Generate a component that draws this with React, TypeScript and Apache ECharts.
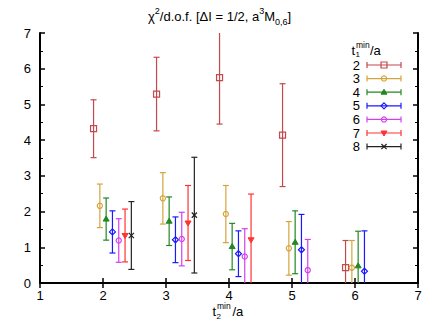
import React, { useEffect, useRef } from "react";
import * as echarts from "echarts";

// t1^min/a labels
const t1Labels = ["2", "3", "4", "5", "6", "7", "8"];
const colors = ["#c4484c", "#d4a43c", "#228822", "#1a1aff", "#d23ff0", "#ff3333", "#222222"];
const markerKinds = ["square", "circle", "triUp", "diamond", "circle", "triDown", "cross"];

// x positions (t2^min/a, with small offsets) per t1 series
const x_t1_2 = [1.85, 2.85, 3.85, 4.85, 5.85];
const x_t1_3 = [1.95, 2.95, 3.95, 4.95, 5.95];
const x_t1_4 = [2.05, 3.05, 4.05, 5.05, 6.05];
const x_t1_5 = [2.15, 3.15, 4.15, 5.15, 6.15];
const x_t1_6 = [2.25, 3.25, 4.25, 5.25];
const x_t1_7 = [2.35, 3.35, 4.35];
const x_t1_8 = [2.45, 3.45];

// chi^2/d.o.f. values
const y_t1_2 = [4.32, 5.29, 5.75, 4.14, 0.43];
const y_t1_3 = [2.16, 2.37, 1.93, 0.97, 0.43];
const y_t1_4 = [1.79, 1.73, 1.02, 1.14, 0.48];
const y_t1_5 = [1.43, 1.21, 0.82, 0.93, 0.33];
const y_t1_6 = [1.19, 1.23, 0.74, 0.36];
const y_t1_7 = [1.33, 1.68, 1.21];
const y_t1_8 = [1.33, 1.9];

// errors
const e_t1_2 = [0.81, 1.03, 1.3, 1.44, 0.76];
const e_t1_3 = [0.61, 0.72, 0.8, 0.75, 0.76];
const e_t1_4 = [0.59, 0.68, 0.65, 0.88, 0.97];
const e_t1_5 = [0.59, 0.64, 0.64, 0.99, 1.13];
const e_t1_6 = [0.61, 0.75, 0.78, 0.86];
const e_t1_7 = [0.74, 1.05, 1.28];
const e_t1_8 = [0.95, 1.62];

const xs = [x_t1_2, x_t1_3, x_t1_4, x_t1_5, x_t1_6, x_t1_7, x_t1_8];
const ys = [y_t1_2, y_t1_3, y_t1_4, y_t1_5, y_t1_6, y_t1_7, y_t1_8];
const es = [e_t1_2, e_t1_3, e_t1_4, e_t1_5, e_t1_6, e_t1_7, e_t1_8];

const xTicks = [1, 2, 3, 4, 5, 6, 7];
const yTicks = [0, 1, 2, 3, 4, 5, 6, 7];

const FONT = "'Liberation Sans', Arial, Helvetica, sans-serif";

function marker(kind: string, cx: number, cy: number, color: string, z2 = 5): any {
  const s = { stroke: color, lineWidth: 1.2, fill: "none" };
  const f = { stroke: color, lineWidth: 1, fill: color };
  switch (kind) {
    case "square":
      return { type: "rect", z2, shape: { x: cx - 3, y: cy - 3, width: 6, height: 6 }, style: s };
    case "circle":
      return { type: "circle", z2, shape: { cx, cy, r: 2.6 }, style: s };
    case "triUp":
      return {
        type: "polygon", z2,
        shape: { points: [[cx, cy - 3], [cx + 3, cy + 2], [cx - 3, cy + 2]] },
        style: f,
      };
    case "triDown":
      return {
        type: "polygon", z2,
        shape: { points: [[cx, cy + 3], [cx + 3, cy - 2], [cx - 3, cy - 2]] },
        style: f,
      };
    case "diamond":
      return {
        type: "polygon", z2,
        shape: { points: [[cx, cy - 3], [cx + 3, cy], [cx, cy + 3], [cx - 3, cy]] },
        style: s,
      };
    case "cross":
    default:
      return {
        type: "group",
        children: [
          { type: "line", z2, shape: { x1: cx - 2.6, y1: cy - 2.6, x2: cx + 2.6, y2: cy + 2.6 }, style: { stroke: color, lineWidth: 1.2 } },
          { type: "line", z2, shape: { x1: cx - 2.6, y1: cy + 2.6, x2: cx + 2.6, y2: cy - 2.6 }, style: { stroke: color, lineWidth: 1.2 } },
        ],
      };
  }
}

function makeRenderItem(kind: string, color: string) {
  return (params: any, api: any) => {
    const x = api.value(0);
    const y = api.value(1);
    const e = api.value(2);
    const c = api.coord([x, y]);
    const top = api.coord([x, y + e]);
    const bot = api.coord([x, y - e]);
    const cs = params.coordSys;
    const yMin = cs.y;
    const yMax = cs.y + cs.height;
    const t = Math.max(top[1], yMin);
    const b = Math.min(bot[1], yMax);
    const ls = { stroke: color, lineWidth: 1.2 };
    const children: any[] = [
      { type: "line", shape: { x1: c[0], y1: t, x2: c[0], y2: b }, style: ls },
    ];
    if (top[1] >= yMin) children.push({ type: "line", shape: { x1: c[0] - 3, y1: top[1], x2: c[0] + 3, y2: top[1] }, style: ls });
    if (bot[1] <= yMax) children.push({ type: "line", shape: { x1: c[0] - 3, y1: bot[1], x2: c[0] + 3, y2: bot[1] }, style: ls });
    children.push(marker(kind, c[0], c[1], color));
    return { type: "group", children };
  };
}

export default function App() {
  const ref = useRef<HTMLDivElement>(null);
  useEffect(() => {
    if (!ref.current) return;
    const chart = echarts.init(ref.current, null, { renderer: "svg" });

    const series = t1Labels.map((name, i) => ({
      type: "custom",
      name,
      renderItem: makeRenderItem(markerKinds[i], colors[i]),
      data: xs[i].map((x, j) => [x, ys[i][j], es[i][j]]),
      encode: { x: 0, y: 1 },
      xAxisIndex: 0,
      yAxisIndex: 0,
      z: 3,
    }));

    // legend drawn with graphic elements
    const legendEls: any[] = [];
    t1Labels.forEach((name, i) => {
      const y = 65 + i * 13.6;
      const c = colors[i];
      const ls = { stroke: c, lineWidth: 1.2 };
      legendEls.push({
        type: "text", x: 360, y,
        style: { text: name, fill: "#000", font: `13px ${FONT}`, lineHeight: 11, align: "right", verticalAlign: "middle" },
      });
      legendEls.push({ type: "line", shape: { x1: 367, y1: y, x2: 401, y2: y }, style: ls });
      legendEls.push({ type: "line", shape: { x1: 367, y1: y - 3, x2: 367, y2: y + 3 }, style: ls });
      legendEls.push({ type: "line", shape: { x1: 401, y1: y - 3, x2: 401, y2: y + 3 }, style: ls });
      legendEls.push(marker(markerKinds[i], 384, y, c, 10));
    });

    const txt = (text: string, x: number, y: number, size: number, lh: number) => ({
      type: "text", x, y,
      style: { text, fill: "#000", font: `${size}px ${FONT}`, lineHeight: lh, align: "left", verticalAlign: "middle" },
    });

    const graphic = [
      ...legendEls,
      // legend header t1^min/a
      txt("t", 351.5, 50, 13, 12),
      txt("1", 355.5, 54, 8, 8),
      txt("min", 356, 44.5, 8.5, 9),
      txt("/a", 370, 50, 13, 12),
      // x-axis name t2^min/a
      txt("t", 212.5, 311, 13, 12),
      txt("2", 216.5, 316, 8, 8),
      txt("min", 217, 306, 8.5, 9),
      txt("/a", 232.5, 311, 13, 12),
    ];

    const axisLine = { show: true, lineStyle: { color: "#000", width: 2 } };
    const labelStyle = { color: "#000", fontSize: 13, fontFamily: FONT, lineHeight: 12 };

    chart.setOption({
      animation: false,
      title: {
        text: "{a|χ}{s|2}{a|/d.o.f. [ΔI = 1/2, a}{s|3}{a|M}{b|0,6}{a|]}",
        left: 148,
        top: 6,
        padding: 0,
        textStyle: {
          fontFamily: FONT,
          fontWeight: "normal",
          rich: {
            a: { fontSize: 13, fontFamily: FONT, color: "#000", lineHeight: 20, verticalAlign: "middle" },
            s: { fontSize: 9, fontFamily: FONT, color: "#000", lineHeight: 12, verticalAlign: "top" },
            b: { fontSize: 9, fontFamily: FONT, color: "#000", lineHeight: 12, verticalAlign: "bottom" },
          },
        },
      },
      grid: { left: 40, right: 18, top: 33, bottom: 44, containLabel: false },
      xAxis: [
        {
          type: "value", min: xTicks[0], max: xTicks[xTicks.length - 1], interval: 1,
          position: "bottom",
          axisLine,
          axisTick: { show: true, inside: true, length: 5, lineStyle: { color: "#000", width: 1.5 } },
          axisLabel: { ...labelStyle, margin: 6 },
          splitLine: { show: false },
        },
        {
          type: "value", min: xTicks[0], max: xTicks[xTicks.length - 1], interval: 1,
          position: "top",
          axisLine,
          axisTick: { show: true, inside: true, length: 5, lineStyle: { color: "#000", width: 1.5 } },
          axisLabel: { show: false },
          splitLine: { show: false },
        },
      ],
      yAxis: [
        {
          type: "value", min: yTicks[0], max: yTicks[yTicks.length - 1], interval: 1,
          position: "left",
          axisLine,
          axisTick: { show: true, inside: true, length: 5, lineStyle: { color: "#000", width: 1.5 } },
          minorTick: { show: true, splitNumber: 2, length: 3, lineStyle: { color: "#000", width: 1 } },
          axisLabel: { ...labelStyle, margin: 9 },
          splitLine: { show: false },
        },
        {
          type: "value", min: yTicks[0], max: yTicks[yTicks.length - 1], interval: 1,
          position: "right",
          axisLine,
          axisTick: { show: true, inside: true, length: 5, lineStyle: { color: "#000", width: 1.5 } },
          minorTick: { show: true, splitNumber: 2, length: 3, lineStyle: { color: "#000", width: 1 } },
          axisLabel: { show: false },
          splitLine: { show: false },
        },
      ],
      series,
      graphic,
    });
    return () => chart.dispose();
  }, []);
  return (
    <div
      ref={ref}
      style={{ position: "fixed", left: 0, top: 0, width: 436, height: 327, background: "#fff" }}
    />
  );
}
